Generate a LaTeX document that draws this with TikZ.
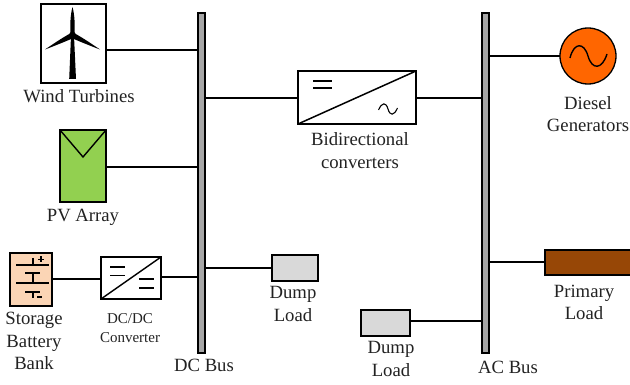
\documentclass[tikz,border=0pt]{standalone}
\usepackage{fontspec}
\setmainfont{Liberation Serif}
\definecolor{pvgreen}{HTML}{92D050}
\definecolor{battpeach}{HTML}{FBD5B5}
\definecolor{gengold}{HTML}{FF6600}
\definecolor{primbrown}{HTML}{974706}
\definecolor{dumpgray}{HTML}{D9D9D9}
\definecolor{busgray}{HTML}{A6A6A6}
\definecolor{txt}{HTML}{222222}
\tikzset{
  x=1pt,y=-1pt,
  box/.style={draw=black,line width=2pt,inner sep=0pt,outer sep=0pt},
  bus/.style={draw=black,line width=2pt,fill=busgray,inner sep=0pt,outer sep=0pt,minimum width=6.5pt,minimum height=339pt},
  wire/.style={draw=black,line width=1.4pt},
  thin wire/.style={draw=black,line width=1.1pt},
  lab/.style={font=\fontsize{18.7}{22.5}\selectfont,align=center,text=txt,inner sep=0pt},
  smalllab/.style={font=\fontsize{15}{19}\selectfont,align=center,text=txt,inner sep=0pt},
}
\begin{document}
\begin{tikzpicture}
\useasboundingbox (0,0) rectangle (630,385);
% buses
\node[bus] (dcbus) at (201.5,183) {};
\node[bus] (acbus) at (485.5,183) {};
% components
\node[box,minimum width=65pt,minimum height=79pt] (wind) at (73.5,43.5) {};
\node[box,fill=pvgreen,minimum width=46pt,minimum height=72pt] (pv) at (83,166) {};
\node[box,fill=battpeach,minimum width=42pt,minimum height=53pt] (batt) at (31,279.5) {};
\node[box,minimum width=60pt,minimum height=42pt] (dcdc) at (131,278) {};
\node[box,fill=dumpgray,minimum width=46pt,minimum height=26pt] (dumpa) at (295,268) {};
\node[box,minimum width=118pt,minimum height=53pt] (conv) at (357,97.5) {};
\node[circle,draw=black,line width=1.3pt,fill=gengold,minimum size=56pt,inner sep=0pt,outer sep=0pt] (gen) at (588,56) {};
\node[box,fill=primbrown,minimum width=90pt,minimum height=25pt] (prim) at (590,262.5) {};
\node[box,fill=dumpgray,minimum width=49pt,minimum height=26pt] (dumpb) at (385.5,323) {};
% connectors
\draw[wire] (wind.east |- 0,50) -- (dcbus.west |- 0,50);
\draw[wire] (pv.east |- 0,167) -- (dcbus.west |- 0,167);
\draw[wire] (batt.east |- 0,279) -- (dcdc.west |- 0,279);
\draw[wire] (dcdc.east |- 0,277) -- (dcbus.west |- 0,277);
\draw[thin wire] (dcbus.east |- 0,268) -- (dumpa.west |- 0,268);
\draw[wire] (dcbus.east |- 0,98) -- (conv.west |- 0,98);
\draw[wire] (conv.east |- 0,98) -- (acbus.west |- 0,98);
\draw[thin wire] (acbus.east |- 0,56) -- (gen.west |- 0,56);
\draw[wire] (acbus.east |- 0,262) -- (prim.west |- 0,262);
\draw[thin wire] (dumpb.east |- 0,321) -- (acbus.west |- 0,321);
% turbine
\fill[black] (72.5,7) .. controls (70.3,15) and (70,25) .. (70.5,35) -- (74.5,35) .. controls (75,25) and (74.7,15) .. (72.5,7) -- cycle;
\fill[black] (71,36) -- (69.2,79) -- (76,79) -- (74,36) -- cycle;
\fill[black] (45,49.5) .. controls (53,44) and (62,38) .. (71,33) -- (73.5,38) .. controls (63,42.5) and (53,46.5) .. (45,49.5) -- cycle;
\fill[black] (100,49.5) .. controls (92,44) and (83,38) .. (74,33) -- (71.5,38) .. controls (82,42.5) and (92,46.5) .. (100,49.5) -- cycle;
\fill[black] (72.5,35) circle (3.4);
% pv mark
\draw[line width=1.4pt] (pv.north west) -- (83,157) -- (pv.north east);
% battery
\draw[line width=1.6pt]
  (33,258) -- (33,265) (16,265) -- (49,265)
  (25,273) -- (40,273) (33,273) -- (33,283) (16,283) -- (49,283)
  (25,292) -- (40,292) (33,292) -- (33,298);
\draw[line width=1.2pt] (38,259.5) -- (44,259.5) (41,256.5) -- (41,262.5) (37,297) -- (42,297);
% dcdc
\draw[line width=1.4pt] (dcdc.south west) -- (dcdc.north east);
\draw[line width=1.5pt] (110,267) -- (125,267) (110,275.5) -- (125,275.5) (139,279) -- (154,279) (139,288) -- (154,288);
% bidirectional
\draw[line width=1.5pt] (conv.south west) -- (conv.north east);
\draw[line width=1.8pt] (313,81) -- (332,81) (313,88) -- (332,88);
\draw[line width=1.1pt] (378.5,110) .. controls (382,102) and (386,102) .. (388,109) .. controls (390,116) and (394,116) .. (397.5,108);
% generator wave
\draw[line width=1.4pt] (570,58) .. controls (574,42) and (584,42) .. (588,56) .. controls (592,70) and (602,70) .. (607,54);
% labels
\node[lab] (lwind) at (79,96.5) {Wind Turbines};
\node[lab] (lpv) at (83,217.5) {PV Array};
\node[lab] (lbatt) at (34,341) {Storage\\Battery\\Bank};
\node[smalllab] (lconv2) at (130,328) {DC/DC\\Converter};
\node[lab] (ldca) at (293,304) {Dump\\Load};
\node[lab] (ldc) at (204,365) {DC Bus};
\node[lab] (lconv) at (360,150.5) {Bidirectional\\converters};
\node[lab] (lgen) at (588,114) {Diesel\\Generators};
\node[lab] (lprim) at (584,302.5) {Primary\\Load};
\node[lab] (ldcb) at (391,359) {Dump\\Load};
\node[lab] (lac) at (508,367) {AC Bus};
\end{tikzpicture}
\end{document}
